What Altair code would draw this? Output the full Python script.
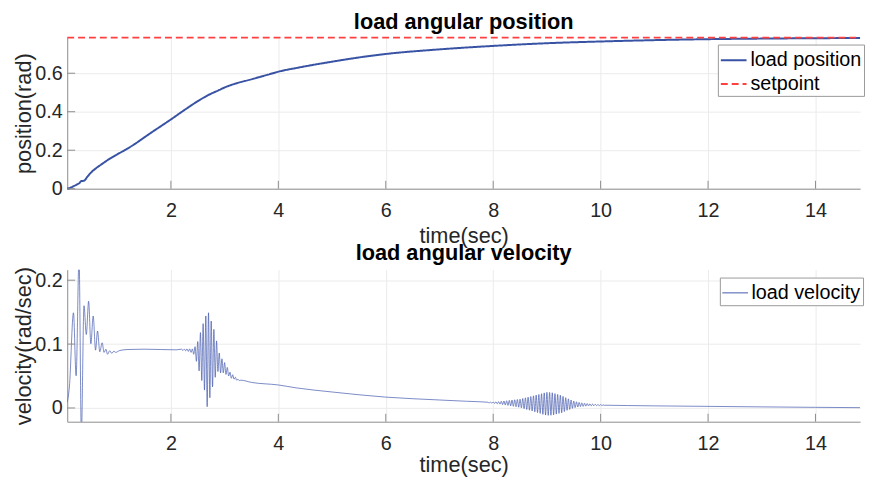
import altair as alt
import pandas as pd

# ---------------- data ----------------
x_domain = [0.07, 14.83]
x_ticks = [2, 4, 6, 8, 10, 12, 14]

pos_domain = [0.0, 0.785]
pos_yticks = [0, 0.2, 0.4, 0.6]
vel_domain = [-0.0215, 0.2165]
vel_yticks = [0, 0.1, 0.2]

series_top = ["load position", "setpoint"]
series_bottom = ["load velocity"]

pos_t = [0.07, 0.12, 0.18, 0.25, 0.30, 0.33, 0.38, 0.44, 0.50, 0.60,
         0.70, 0.84, 1.0, 1.27, 1.6, 2.0, 2.3, 2.5, 2.7, 2.9,
         3.0, 3.2, 3.48, 3.8, 4.03, 4.33, 5.0, 5.5, 6.0, 7.0,
         8.0, 9.0, 10.0, 11.0, 12.0, 13.0, 14.0, 14.83]
pos_v = [0.0, 0.004, 0.012, 0.022, 0.030, 0.040, 0.041, 0.060, 0.080, 0.105,
         0.125, 0.152, 0.178, 0.222, 0.285, 0.360, 0.418, 0.455, 0.487, 0.513,
         0.526, 0.546, 0.567, 0.592, 0.610, 0.627, 0.660, 0.682, 0.700, 0.724,
         0.742, 0.756, 0.765, 0.772, 0.777, 0.780, 0.782, 0.783]

setpoint_t = [0.07, 14.83]
setpoint_v = [0.785, 0.785]

vel_start_t = [0.07, 0.11, 0.186, 0.235, 0.29, 0.333, 0.382, 0.425, 0.468, 0.51,
               0.553, 0.597, 0.634, 0.676, 0.72, 0.756, 0.79, 0.82, 0.86, 0.90,
               0.94, 0.97, 1.05, 1.2, 1.5, 1.8, 2.1]
vel_start_v = [0.009, 0.033, 0.149, 0.0505, 0.235, -0.04, 0.160, 0.115, 0.167, 0.1005,
               0.144, 0.0905, 0.1205, 0.088, 0.102, 0.087, 0.092, 0.084, 0.0895, 0.0855,
               0.089, 0.087, 0.090, 0.0915, 0.092, 0.0915, 0.091]

burst1_t = [2.200, 2.225, 2.250, 2.275, 2.300, 2.325, 2.350, 2.375, 2.400, 2.425,
            2.450, 2.475, 2.500, 2.525, 2.550, 2.575, 2.600, 2.625, 2.650, 2.675,
            2.700, 2.725, 2.750, 2.775, 2.800, 2.825, 2.850, 2.875, 2.900, 2.925,
            2.950, 2.975, 3.000, 3.025, 3.050, 3.075, 3.100, 3.125, 3.150, 3.175,
            3.200, 3.225, 3.250, 3.275, 3.300]
burst1_v = [0.0920, 0.0900, 0.0922, 0.0895, 0.0925, 0.0885, 0.0925, 0.0870, 0.0925, 0.0840,
            0.0960, 0.0730, 0.1040, 0.0580, 0.1180, 0.0430, 0.1320, 0.0280, 0.1440, 0.0020,
            0.1490, 0.0160, 0.1360, 0.0330, 0.1230, 0.0480, 0.1050, 0.0570, 0.0860, 0.0550,
            0.0770, 0.0550, 0.0710, 0.0525, 0.0635, 0.0500, 0.0560, 0.0465, 0.0520, 0.0450,
            0.0480, 0.0435, 0.0450, 0.0427, 0.0435]

vel_mid_t = [3.5, 4.0, 4.33, 5.0, 6.0, 7.0, 7.5]
vel_mid_v = [0.040, 0.036, 0.0315, 0.025, 0.017, 0.0125, 0.0105]

burst2_t = [7.900, 7.925, 7.950, 7.975, 8.000, 8.025, 8.050, 8.075, 8.100, 8.125,
            8.150, 8.175, 8.200, 8.225, 8.250, 8.275, 8.300, 8.325, 8.350, 8.375,
            8.400, 8.425, 8.450, 8.475, 8.500, 8.525, 8.550, 8.575, 8.600, 8.625,
            8.650, 8.675, 8.700, 8.725, 8.750, 8.775, 8.800, 8.825, 8.850, 8.875,
            8.900, 8.925, 8.950, 8.975, 9.000, 9.025, 9.050, 9.075, 9.100, 9.125,
            9.150, 9.175, 9.200, 9.225, 9.250, 9.275, 9.300, 9.325, 9.350, 9.375,
            9.400, 9.425, 9.450, 9.475, 9.500, 9.525, 9.550, 9.575, 9.600, 9.625,
            9.650, 9.675, 9.700, 9.725, 9.750, 9.775, 9.800, 9.825, 9.850, 9.875,
            9.900, 9.925, 9.950, 9.975, 10.000, 10.025, 10.050, 10.075, 10.100]
burst2_v = [0.0090, 0.0079, 0.0091, 0.0076, 0.0093, 0.0071, 0.0096, 0.0066, 0.0099, 0.0060,
            0.0104, 0.0053, 0.0109, 0.0046, 0.0113, 0.0040, 0.0118, 0.0033, 0.0123, 0.0026,
            0.0128, 0.0019, 0.0133, 0.0012, 0.0138, 0.0002, 0.0148, -0.0010, 0.0159, -0.0023,
            0.0169, -0.0035, 0.0179, -0.0047, 0.0190, -0.0060, 0.0201, -0.0072, 0.0211, -0.0085,
            0.0223, -0.0100, 0.0236, -0.0111, 0.0245, -0.0116, 0.0243, -0.0114, 0.0238, -0.0107,
            0.0225, -0.0096, 0.0212, -0.0085, 0.0199, -0.0075, 0.0181, -0.0055, 0.0161, -0.0037,
            0.0143, -0.0022, 0.0125, -0.0006, 0.0108, 0.0006, 0.0097, 0.0015, 0.0087, 0.0022,
            0.0080, 0.0025, 0.0074, 0.0029, 0.0069, 0.0032, 0.0064, 0.0034, 0.0061, 0.0035,
            0.0058, 0.0036, 0.0055, 0.0037, 0.0052, 0.0039, 0.0047, 0.0041, 0.0043]

vel_tail_t = [10.5, 11.0, 12.0, 13.0, 14.0, 14.83]
vel_tail_v = [0.0038, 0.0033, 0.0025, 0.0017, 0.0010, 0.0005]

# ---------------- styling ----------------
FONT = "Liberation Sans"
BLUE = "#3852A4"
VBLUE = "#4258AD"
RED = "#FF4040"
AXIS_GRAY = "#8C8C8C"
W = 803
H1 = 153
H2 = 154

xscale = alt.Scale(domain=x_domain, nice=False, zero=False)
y1scale = alt.Scale(domain=pos_domain, nice=False, zero=False)
y2scale = alt.Scale(domain=vel_domain, nice=False, zero=False)


def x_axis(title_y):
    return alt.Axis(values=x_ticks, format="~g", title="time(sec)", grid=True,
                    ticks=False, labelPadding=12, titleY=title_y, titleBaseline="middle")


def y_axis(title, values, h):
    return alt.Axis(values=values, format="~g", title=title, grid=True, ticks=False,
                    labelPadding=5, titleX=-44, titleY=h / 2, titleAngle=270,
                    titleBaseline="middle", titleAlign="center")


def tick_layers(yscale, yvalues, h, ytitle, title_y):
    # inward pointing tick marks (MATLAB style)
    xt = alt.Chart(pd.DataFrame({"t": x_ticks})).mark_rule(
        color=AXIS_GRAY, strokeWidth=1).encode(
        x=alt.X("t:Q", scale=xscale, axis=x_axis(title_y)),
        y=alt.value(h), y2=alt.value(h - 8))
    yt = alt.Chart(pd.DataFrame({"value": yvalues})).mark_rule(
        color=AXIS_GRAY, strokeWidth=1).encode(
        y=alt.Y("value:Q", scale=yscale, axis=y_axis(ytitle, yvalues, h)),
        x=alt.value(0), x2=alt.value(8))
    return xt, yt


# ---------------- top panel ----------------
pos_df = pd.DataFrame({
    "t": pos_t + setpoint_t,
    "value": pos_v + setpoint_v,
    "series": [series_top[0]] * len(pos_t) + [series_top[1]] * len(setpoint_t),
})

legend_top = alt.Legend(title=None, orient="none", legendX=659, legendY=7,
                        symbolStrokeWidth=2)

lines_top = alt.Chart(pos_df).mark_line(strokeWidth=2, interpolate="monotone").encode(
    x=alt.X("t:Q", scale=xscale, axis=x_axis(47)),
    y=alt.Y("value:Q", scale=y1scale, axis=y_axis("position(rad)", pos_yticks, H1)),
    color=alt.Color("series:N", scale=alt.Scale(domain=series_top, range=[BLUE, RED]),
                    legend=legend_top),
    strokeDash=alt.StrokeDash("series:N",
                              scale=alt.Scale(domain=series_top, range=[[1, 0], [7, 4]]),
                              legend=legend_top),
)
xt1, yt1 = tick_layers(y1scale, pos_yticks, H1, "position(rad)", 47)
top = alt.layer(lines_top, xt1, yt1).properties(
    width=W, height=H1,
    title=alt.TitleParams("load angular position", offset=0, frame="group"),
)

# ---------------- bottom panel ----------------
vel_t = vel_start_t + burst1_t + vel_mid_t + burst2_t + vel_tail_t
vel_v = vel_start_v + burst1_v + vel_mid_v + burst2_v + vel_tail_v
vel_df = pd.DataFrame({"t": vel_t, "value": vel_v,
                       "series": [series_bottom[0]] * len(vel_t)})

legend_bottom = alt.Legend(title=None, orient="none", legendX=661, legendY=8,
                           symbolStrokeWidth=1)

lines_bottom = alt.Chart(vel_df).mark_line(strokeWidth=0.7, interpolate="monotone",
                                           clip=True).encode(
    x=alt.X("t:Q", scale=xscale, axis=x_axis(43), sort=None),
    y=alt.Y("value:Q", scale=y2scale, axis=y_axis("velocity(rad/sec)", vel_yticks, H2)),
    color=alt.Color("series:N", scale=alt.Scale(domain=series_bottom, range=[VBLUE]),
                    legend=legend_bottom),
)
xt2, yt2 = tick_layers(y2scale, vel_yticks, H2, "velocity(rad/sec)", 43)
bottom = alt.layer(lines_bottom, xt2, yt2).properties(
    width=W, height=H2,
    title=alt.TitleParams("load angular velocity", offset=2, frame="group"),
)

chart = alt.vconcat(top, bottom, spacing=82, bounds="flush").resolve_scale(
    color="independent", strokeDash="independent", y="independent"
).resolve_legend(color="independent", strokeDash="independent").properties(
    padding={"left": 5, "top": 0, "right": 0, "bottom": 0}
)

chart = chart.configure(font=FONT).configure_axis(
    labelFont=FONT, labelFontSize=20, labelColor="#262626",
    titleFont=FONT, titleFontSize=22, titleColor="#262626", titleFontWeight="normal",
    domainColor=AXIS_GRAY, domainWidth=1, gridColor="#EBEBEB", gridWidth=1,
).configure_legend(
    labelFont=FONT, labelFontSize=20, labelColor="#000000",
    strokeColor="#999999", fillColor="white", padding=2,
    symbolType="stroke", symbolSize=676, labelOffset=3, rowPadding=0,
    cornerRadius=0, labelLimit=300,
).configure_view(strokeWidth=0).configure_title(
    font=FONT, fontSize=22, fontWeight="bold", color="#000000",
    anchor="middle", baseline="alphabetic",
)

chart.save("out.html", embed_options={"renderer": "svg", "actions": False})
